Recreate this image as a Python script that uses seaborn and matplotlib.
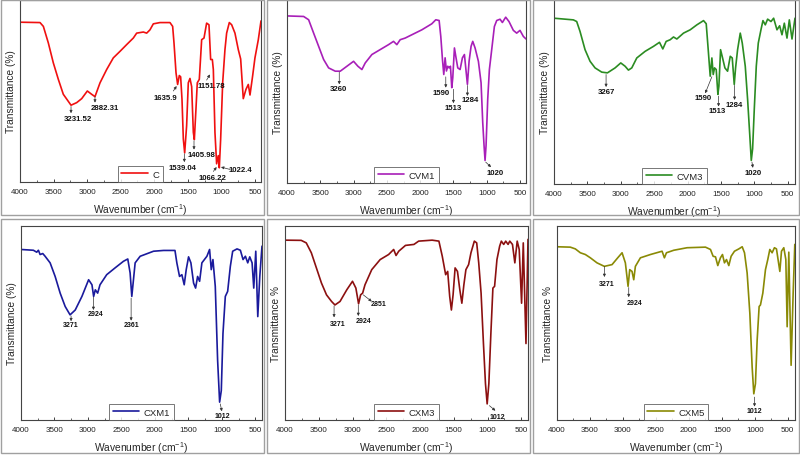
import matplotlib
matplotlib.use("Agg")
import matplotlib.pyplot as plt
import seaborn as sns
import pandas as pd
from matplotlib.patches import FancyBboxPatch

# ---------------- data (wavenumber cm-1, relative transmittance) ----------------
c_wn = [4000, 3702, 3652, 3578, 3504, 3429, 3355, 3240, 3156, 3081, 2997, 2933, 2883, 2808, 2709, 2610,
        2510, 2411, 2312, 2262, 2163, 2113, 2064, 2014, 1915, 1766, 1726, 1706, 1676, 1652, 1627, 1607,
        1587, 1567, 1547, 1518, 1493, 1468, 1443, 1418, 1403, 1379, 1359, 1329, 1294, 1259, 1220, 1185,
        1160, 1135, 1120, 1096, 1071, 1046, 1031, 1011, 981, 947, 922, 882, 847, 798, 748, 713, 674,
        634, 599, 574, 535, 500, 450, 410]
c_t = [87.8, 87.6, 85.5, 76.4, 65.5, 56.4, 48.2, 42.2, 43.6, 45.8, 50.0, 48.2, 46.9, 54.5, 61.8, 68.2,
       71.8, 75.5, 79.1, 81.8, 82.4, 81.8, 83.6, 86.9, 87.6, 87.6, 85.5, 76.4, 60.0, 53.6, 58.5, 57.8,
       45.5, 23.6, 16.0, 30.9, 54.5, 56.9, 52.4, 27.3, 23.3, 40.0, 54.5, 56.4, 78.2, 79.1, 87.3, 86.4,
       67.3, 67.3, 61.8, 27.3, 10.0, 14.5, 7.8, 23.6, 54.5, 72.7, 81.8, 87.6, 86.4, 81.8, 72.7, 67.6, 45.8,
       50.9, 53.6, 47.8, 58.2, 68.2, 78.2, 88.5]

cvm1_wn = [4000, 3750, 3675, 3600, 3525, 3450, 3375, 3275, 3200, 3100, 3000, 2935, 2875, 2825, 2725, 2600,
           2475, 2400, 2350, 2300, 2225, 2125, 1975, 1825, 1765, 1715, 1690, 1665, 1645, 1625, 1605, 1585,
           1565, 1545, 1525, 1510, 1485, 1465, 1435, 1400, 1365, 1335, 1310, 1290, 1265, 1235, 1210, 1175,
           1125, 1085, 1060, 1040, 1025, 1010, 985, 960, 925, 885, 850, 800, 765, 715, 665, 600, 550, 500,
           450, 410]
cvm1_t = [91.3, 91.0, 89.2, 81.9, 74.7, 67.5, 62.9, 61.1, 61.1, 63.8, 66.5, 63.8, 62.0, 65.6, 70.2, 72.9,
          75.6, 77.4, 75.6, 78.3, 79.2, 81.0, 83.7, 87.0, 89.2, 88.8, 80.1, 67.5, 59.3, 68.4, 61.2, 63.8,
          62.9, 63.8, 52.1, 57.5, 73.8, 69.3, 62.9, 62.0, 68.4, 70.2, 61.1, 53.9, 66.5, 74.7, 77.4, 73.8,
          66.5, 54.8, 33.1, 20.4, 12.3, 20.4, 45.8, 62.0, 72.9, 85.5, 88.8, 89.5, 87.7, 90.6, 88.2, 83.4, 81.9, 83.4,
          80.1, 78.7]

cvm3_wn = [4000, 3710, 3660, 3610, 3535, 3460, 3385, 3285, 3200, 3085, 3000, 2935, 2885, 2835, 2760, 2635,
           2510, 2420, 2370, 2320, 2260, 2210, 2160, 2060, 1960, 1860, 1760, 1720, 1690, 1660, 1635, 1615,
           1595, 1570, 1545, 1530, 1505, 1475, 1440, 1400, 1360, 1330, 1300, 1280, 1250, 1210, 1180, 1135,
           1100, 1070, 1045, 1025, 1000, 970, 940, 900, 870, 835, 800, 750, 710, 660, 620, 585, 550, 510,
           475, 435, 390]
cvm3_t = [90.1, 89.2, 88.3, 82.9, 73.0, 66.7, 63.1, 60.8, 60.4, 63.1, 65.8, 64.0, 61.9, 63.1, 68.5, 72.1,
          74.8, 77.0, 73.4, 77.5, 78.4, 79.9, 78.8, 82.0, 83.8, 86.5, 88.8, 87.1, 73.0, 58.6, 68.5, 59.5,
          63.1, 62.2, 48.7, 53.2, 73.0, 68.5, 63.1, 61.3, 69.4, 68.5, 54.1, 63.1, 73.0, 82.0, 76.6, 64.0,
          46.0, 28.1, 12.8, 19.1, 40.6, 64.0, 76.6, 83.8, 88.8, 86.5, 89.6, 88.3, 90.1, 83.8, 86.0, 81.1, 87.4, 79.3,
          89.2, 78.8, 90.1]

cxm1_wn = [4000, 3815, 3765, 3740, 3715, 3675, 3640, 3565, 3490, 3415, 3340, 3267, 3190, 3090, 2990, 2940,
           2915, 2890, 2855, 2820, 2720, 2595, 2470, 2405, 2370, 2345, 2320, 2295, 2220, 2020, 1870, 1700,
           1672, 1632, 1597, 1562, 1532, 1497, 1462, 1422, 1392, 1362, 1332, 1298, 1223, 1183, 1158, 1133,
           1098, 1063, 1033, 1008, 983, 948, 913, 873, 838, 773, 723, 683, 648, 613, 583, 548, 523, 493,
           463, 433, 400]
cxm1_t = [87.9, 87.5, 86.5, 87.5, 85.3, 85.8, 84.4, 81.0, 74.0, 65.4, 58.5, 54.2, 56.7, 63.7, 72.3, 69.7,
          63.7, 67.1, 65.4, 69.7, 74.9, 78.4, 81.8, 83.0, 75.8, 63.7, 72.3, 81.0, 84.4, 87.0, 87.4, 87.4,
          81.0, 74.0, 74.9, 69.7, 77.5, 84.1, 81.0, 70.6, 68.0, 74.0, 71.5, 81.0, 84.4, 87.9, 77.5, 82.7,
          68.9, 30.8, 9.2, 15.2, 44.6, 63.7, 66.3, 79.2, 87.0, 88.2, 87.5, 82.7, 84.4, 81.0, 84.1, 81.0, 68.0, 87.0,
          53.3, 74.0, 89.6]

cxm3_wn = [4000, 3760, 3685, 3610, 3535, 3460, 3385, 3310, 3260, 3185, 3085, 3000, 2950, 2910, 2880, 2850,
           2815, 2715, 2590, 2465, 2390, 2355, 2315, 2215, 2090, 2020, 1820, 1720, 1670, 1620, 1590, 1560,
           1535, 1510, 1480, 1445, 1410, 1380, 1350, 1320, 1280, 1245, 1195, 1160, 1130, 1095, 1060, 1030,
           1005, 980, 950, 920, 895, 860, 820, 795, 760, 730, 695, 670, 630, 595, 560, 530, 495, 470, 430, 400]
cxm3_t = [92.7, 92.6, 91.3, 86.2, 78.4, 70.6, 64.5, 61.1, 59.3, 61.1, 67.1, 71.5, 68.0, 59.9, 64.5, 65.4,
          69.7, 77.5, 82.7, 85.3, 87.9, 84.8, 87.0, 90.0, 90.5, 92.2, 92.7, 92.2, 84.4, 74.9, 76.6, 63.7,
          56.7, 64.5, 78.4, 76.6, 67.1, 60.2, 69.7, 77.5, 80.1, 86.2, 92.2, 91.3, 81.0, 65.4, 39.4, 18.7,
          8.3, 18.7, 44.6, 68.0, 68.9, 82.7, 89.6, 92.2, 90.5, 92.2, 90.5, 92.2, 90.5, 81.0, 92.2, 87.9, 60.2, 91.3, 39.4, 93.1]

cxm5_wn = [4000, 3798, 3722, 3646, 3570, 3494, 3393, 3282, 3165, 3079, 3013, 2963, 2922, 2897, 2862, 2836,
           2811, 2735, 2583, 2406, 2371, 2340, 2229, 2027, 1748, 1672, 1632, 1596, 1561, 1521, 1490, 1460,
           1429, 1394, 1359, 1308, 1242, 1191, 1156, 1116, 1075, 1040, 1015, 990, 964, 934, 914, 878, 838,
           803, 772, 737, 702, 671, 620, 595, 560, 529, 509, 484, 449, 418, 393]
cxm5_t = [89.3, 89.1, 88.2, 86.2, 85.3, 83.6, 81.0, 79.2, 80.1, 83.6, 86.2, 81.0, 68.9, 77.5, 76.6, 72.3,
          79.2, 83.6, 85.3, 87.0, 83.6, 86.2, 87.5, 88.8, 89.1, 87.9, 84.4, 84.1, 79.6, 83.6, 85.3, 81.0,
          82.7, 79.6, 84.4, 87.0, 88.2, 89.3, 86.2, 75.8, 55.0, 27.3, 13.5, 18.7, 41.2, 58.5, 59.3, 65.4, 77.5,
          82.7, 87.9, 86.2, 88.8, 88.2, 76.6, 87.0, 88.8, 82.7, 48.1, 86.5, 28.2, 65.4, 90.5]

sample_names = ["C", "CVM1", "CVM3", "CXM1", "CXM3", "CXM5"]
peak_labels = [
    ["3231.52", "2882.31", "1635.9", "1151.78", "1405.98", "1539.04", "1066.22", "1022.4"],
    ["3260", "1590", "1513", "1284", "1020"],
    ["3267", "1590", "1513", "1284", "1020"],
    ["3271", "2924", "2361", "1012"],
    ["3271", "2924", "2851", "1012"],
    ["3271", "2924", "1012"],
]
x_ticks = [4000, 3500, 3000, 2500, 2000, 1500, 1000, 500]

# ---------------- style ----------------
sns.set_style("ticks")
plt.rcParams["font.family"] = ["Liberation Sans", "DejaVu Sans"]
plt.rcParams["mathtext.default"] = "regular"

W, H = 800, 456
fig = plt.figure(figsize=(8, 4.56), dpi=100)
fig.patch.set_facecolor("white")

def px_rect(l, t, r, b):
    return [l / W, 1 - b / H, (r - l) / W, (b - t) / H]

axes_px = [(20, 1, 261, 183), (287, 1, 526, 184), (554, 1, 795, 185),
           (21, 227, 262, 421), (285, 227, 528, 421), (557, 227, 795, 421)]
boxes_px = [(1, 1, 264, 216), (267, 1, 530, 216), (533, 1, 799, 216),
            (1, 220, 264, 454), (267, 220, 530, 454), (533, 220, 799, 454)]
xlims = [(4000, 410), (4000, 410), (4000, 390), (4000, 400), (4000, 400), (4000, 390)]
colors = ["#f01010", "#a81fb8", "#2b8c22", "#1a1a9c", "#8c1010", "#8a8a05"]
ylabels = ["Transmittance (%)"] * 4 + ["Transmittance %"] * 2
series = [(c_wn, c_t), (cvm1_wn, cvm1_t), (cvm3_wn, cvm3_t),
          (cxm1_wn, cxm1_t), (cxm3_wn, cxm3_t), (cxm5_wn, cxm5_t)]

# annotation geometry: (text x, text y, arrow start x, y, arrow end x, y) in data units
ann_geo = [
    [(3141, 35.1, 3240, 41.5, 3240, 37.8), (2734, 40.9, 2883, 46.9, 2883, 43.6),
     (1840, 46.4, 1716, 50.0, 1667, 52.7), (1155, 53.1, 1220, 56.0, 1170, 59.1),
     (1294, 15.1, 1408, 22.7, 1408, 17.8), (1577, 8.0, 1552, 15.5, 1552, 10.9),
     (1130, 2.7, 1120, 5.8, 1071, 8.2), (723, 6.7, 872, 6.9, 1006, 8.2)],
    [(3225, 51.5, 3215, 60.6, 3215, 53.9), (1690, 49.4, 1615, 58.0, 1615, 52.1),
     (1500, 41.2, 1500, 51.2, 1500, 43.6), (1250, 45.4, 1290, 53.3, 1290, 47.6),
     (875, 6.0, 1015, 11.4, 935, 8.7)],
    [(3220, 50.2, 3220, 59.5, 3220, 52.7), (1770, 46.9, 1635, 58.3, 1735, 49.3),
     (1550, 39.7, 1535, 47.8, 1535, 42.1), (1300, 43.2, 1295, 53.6, 1295, 45.7),
     (1020, 6.5, 1035, 11.9, 1020, 8.8)],
    [(3252, 49.0, 3252, 53.6, 3252, 50.9), (2893, 54.7, 2918, 63.3, 2918, 56.7),
     (2355, 49.3, 2355, 62.8, 2355, 51.2), (999, 2.2, 1024, 8.3, 999, 4.5)],
    [(3213, 49.8, 3273, 58.8, 3273, 52.9), (2840, 51.2, 2914, 59.3, 2914, 53.6),
     (2616, 59.9, 2840, 64.5, 2715, 61.1), (848, 1.7, 972, 7.4, 883, 4.8)],
    [(3251, 70.6, 3281, 79.2, 3281, 73.7), (2826, 60.6, 2912, 68.3, 2912, 63.3),
     (1004, 4.8, 1004, 11.8, 1004, 6.9)],
]
ann_size = [5.6, 5.6, 5.6, 5.0, 5.0, 5.0]

for i in range(6):
    # outer grey panel frame
    l, t, r, b = boxes_px[i]
    fig.patches.append(FancyBboxPatch((l / W, 1 - b / H), (r - l) / W, (b - t) / H,
                                      boxstyle="square,pad=0", transform=fig.transFigure,
                                      facecolor="none", edgecolor="#a0a0a0", lw=1.0))
    ax = fig.add_axes(px_rect(*axes_px[i]))
    wn, tr = series[i]
    df = pd.DataFrame({"wn": wn, "T": tr})
    sns.lineplot(data=df, x="wn", y="T", sort=False, estimator=None, color=colors[i],
                 lw=1.2, label=sample_names[i], ax=ax)
    ax.set_xlim(*xlims[i])
    ax.set_ylim(0, 100)
    ax.set_xticks(x_ticks)
    ax.set_xticklabels([str(v) for v in x_ticks], fontsize=5.8)
    ax.set_xticks(range(3750, 300, -500), minor=True)
    ax.tick_params(axis="x", which="major", direction="in", length=2.5, width=0.6, pad=4.5, colors="#222222")
    ax.tick_params(axis="x", which="minor", direction="in", length=1.5, width=0.5, colors="#222222")
    ax.set_yticks([])
    for s in ax.spines.values():
        s.set_visible(True)
        s.set_color("#444444")
        s.set_linewidth(0.8)
    ax.set_xlabel("Wavenumber (cm$^{-1}$)", fontsize=7.4, labelpad=4)
    ax.set_ylabel(ylabels[i], fontsize=7.3, labelpad=3)
    leg = ax.legend(loc="lower center", borderaxespad=0.0, fancybox=False, fontsize=6.8,
                    handlelength=2.8, handletextpad=0.5, borderpad=0.35, frameon=True)
    leg.get_frame().set_edgecolor("#555555")
    leg.get_frame().set_linewidth(0.7)
    for lab, (tx, ty, sx, sy, ex, ey) in zip(peak_labels[i], ann_geo[i]):
        ax.text(tx, ty, lab, fontsize=ann_size[i], fontweight="bold", ha="center", va="center",
                color="#111111")
        ax.annotate("", xy=(ex, ey), xytext=(sx, sy),
                    arrowprops=dict(arrowstyle="-|>", color="#333333", lw=0.5,
                                    mutation_scale=4, shrinkA=0, shrinkB=0))

fig.savefig("out.png", dpi=100, facecolor="white")
